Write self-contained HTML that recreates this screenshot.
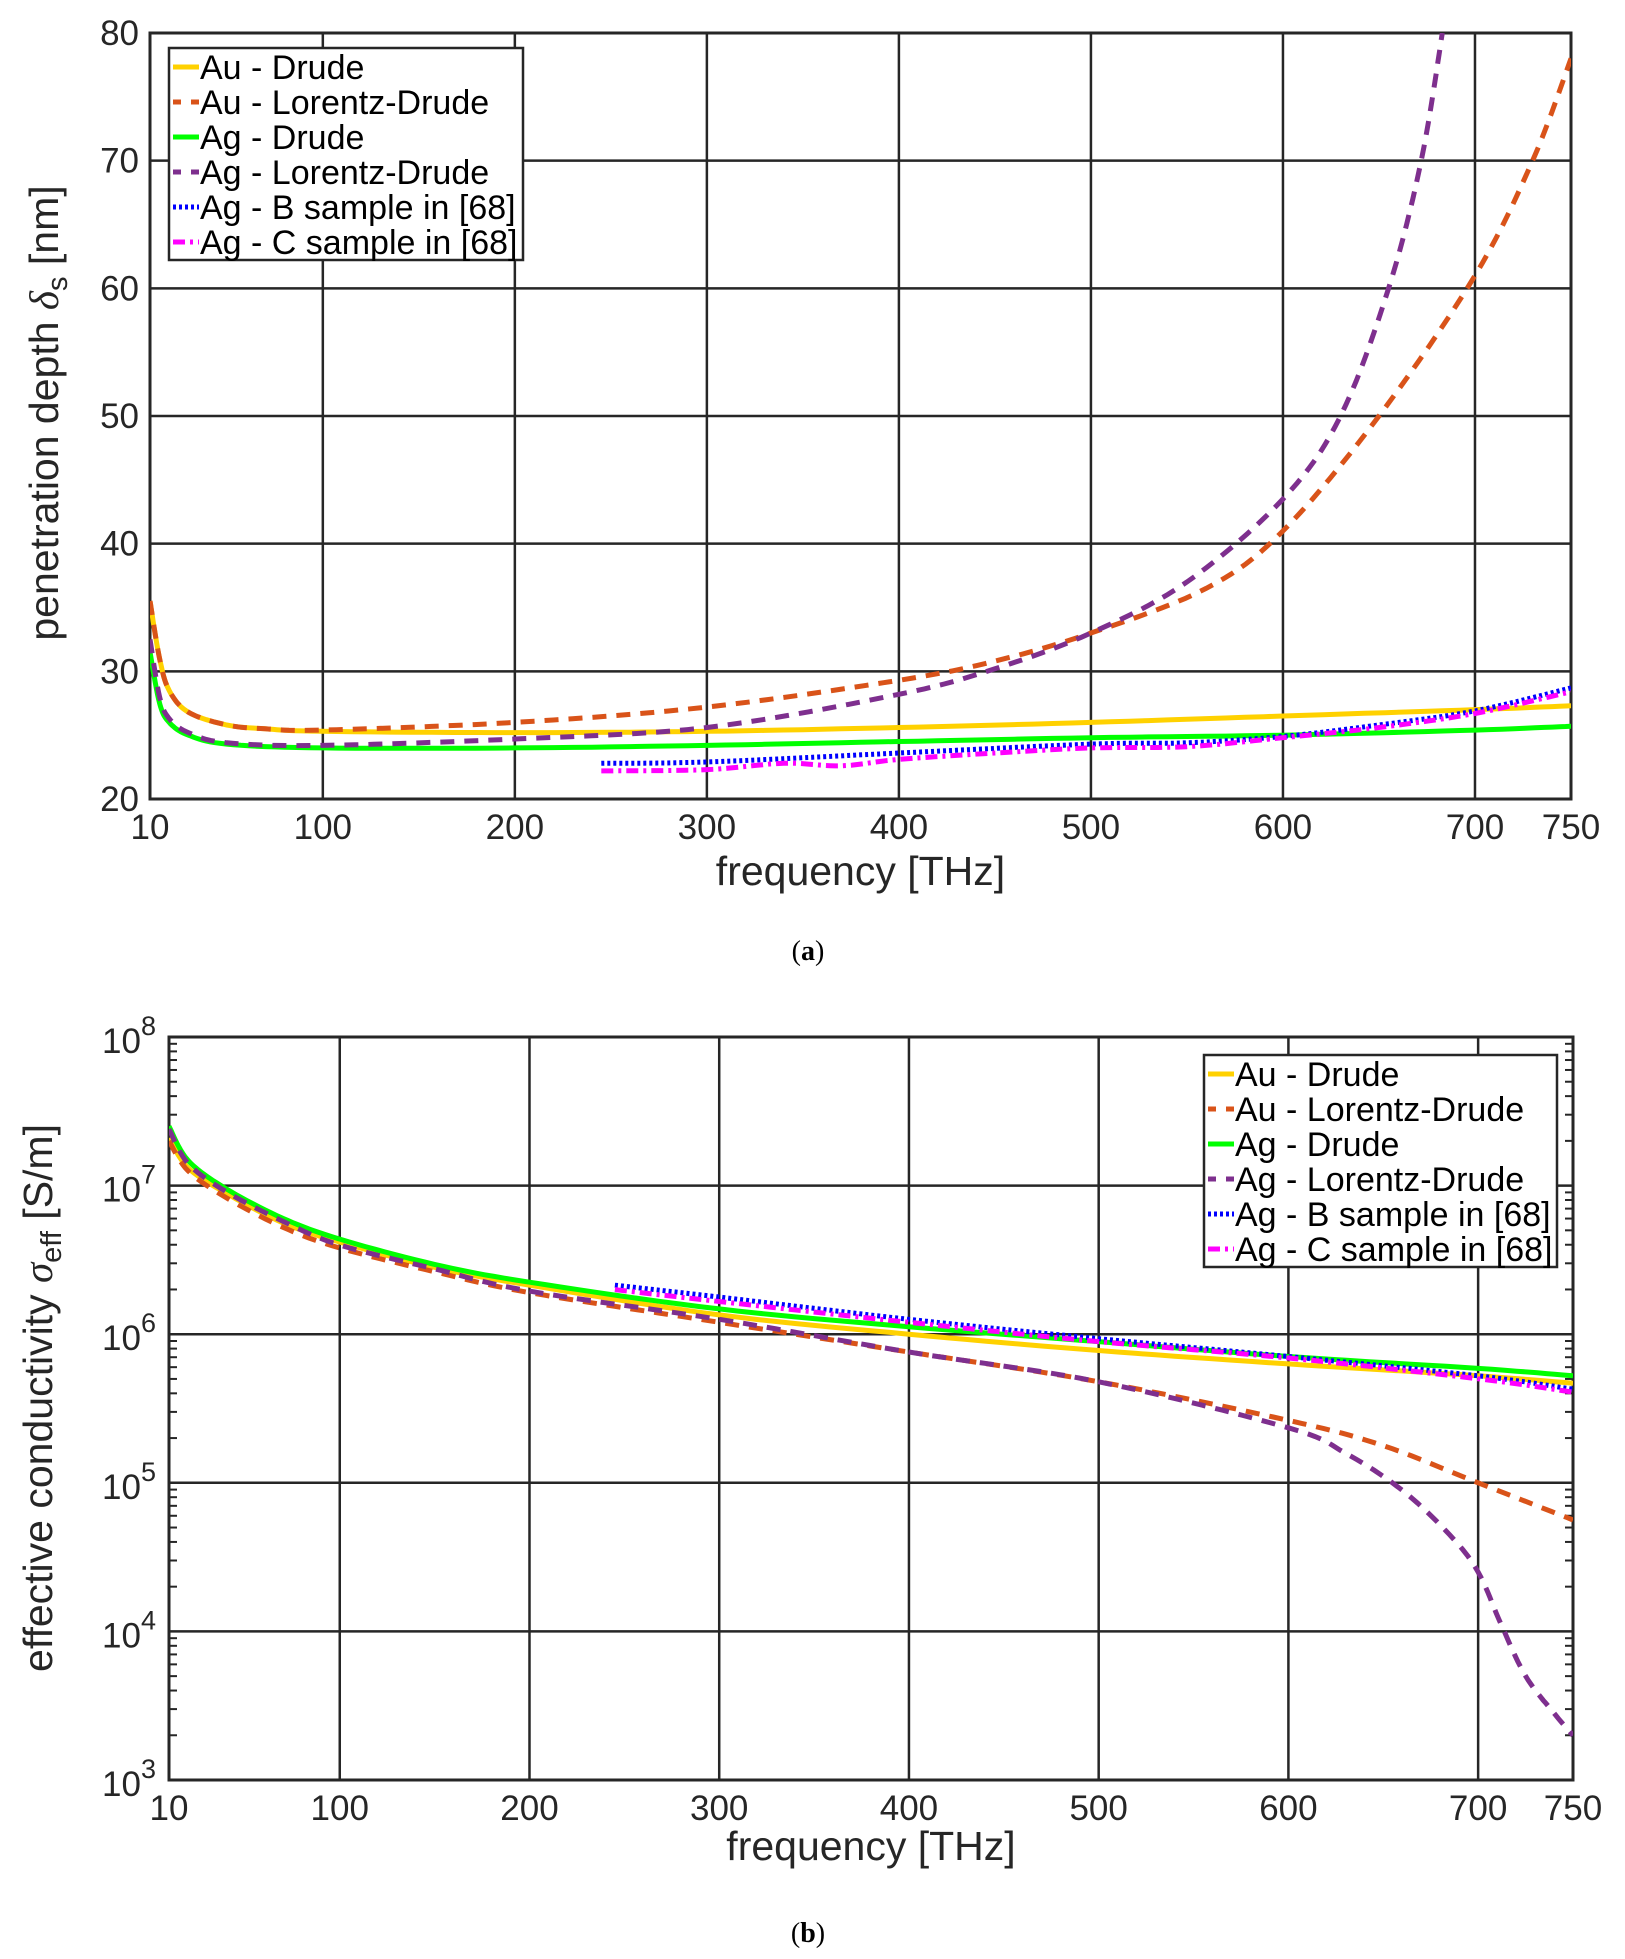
<!DOCTYPE html>
<html><head><meta charset="utf-8"><style>
html,body{margin:0;padding:0;background:#fff;}
svg{display:block;font-family:"Liberation Sans",Arial,sans-serif;}
</style></head><body>
<svg id="s" width="1625" height="1959" viewBox="0 0 1625 1959" xmlns="http://www.w3.org/2000/svg">
<g id="g"></g>
<text x="808" y="960" font-family="Liberation Serif,serif" font-size="28" text-anchor="middle">(<tspan font-weight="bold">a</tspan>)</text>
<text x="808" y="1942" font-family="Liberation Serif,serif" font-size="28" text-anchor="middle">(<tspan font-weight="bold">b</tspan>)</text>
</svg>
<script>
const NS="http://www.w3.org/2000/svg",G=document.getElementById('g');
function el(t,a,txt){const e=document.createElementNS(NS,t);for(const k in a)e.setAttribute(k,a[k]);if(txt!==undefined)e.textContent=txt;G.appendChild(e);return e;}
const C={y:'#FFD100',o:'#D95319',g:'#00FF00',p:'#7E2F8E',b:'#0000FF',m:'#FF00FF'};
const ST={y:'',o:'14,10',g:'',p:'14,10',b:'3,3',m:'12,5,3,5'};
function interp(pts,n){const out=[];for(let i=0;i<pts.length-1;i++){const p0=pts[Math.max(0,i-1)],p1=pts[i],p2=pts[i+1],p3=pts[Math.min(pts.length-1,i+2)];for(let k=0;k<n;k++){const t=k/n,t2=t*t,t3=t2*t;const f=j=>0.5*((2*p1[j])+(-p0[j]+p2[j])*t+(2*p0[j]-5*p1[j]+4*p2[j]-p3[j])*t2+(-p0[j]+3*p1[j]-3*p2[j]+p3[j])*t3);out.push([f(0),f(1)]);}}out.push(pts[pts.length-1]);return out;}
function curve(pts,X,Y,c,clip){const q=interp(pts,10);el('path',{d:'M'+q.map(p=>X(p[0]).toFixed(1)+','+Y(p[1]).toFixed(1)).join('L'),fill:'none',stroke:C[c],'stroke-width':5,'stroke-dasharray':ST[c],'clip-path':clip});}
// ---------- Plot A
const ax={l:150,r:1571,t:33,b:799};
const XA=f=>ax.l+(f-10)/740*(ax.r-ax.l),YA=v=>ax.b-(v-20)/60*(ax.b-ax.t);
el('clipPath',{id:'ca'}).appendChild((()=>{const r=document.createElementNS(NS,'rect');r.setAttribute('x',ax.l);r.setAttribute('y',ax.t);r.setAttribute('width',ax.r-ax.l);r.setAttribute('height',ax.b-ax.t);return r;})());
const xt=[10,100,200,300,400,500,600,700,750];
for(const f of xt){el('line',{x1:XA(f),x2:XA(f),y1:ax.t,y2:ax.b,stroke:'#262626','stroke-width':2.5});el('text',{x:XA(f),y:839,'font-size':35,'text-anchor':'middle',fill:'#262626'},f);}
for(let v=20;v<=80;v+=10){el('line',{x1:ax.l,x2:ax.r,y1:YA(v),y2:YA(v),stroke:'#262626','stroke-width':2.5});el('text',{x:139,y:YA(v)+12,'font-size':35,'text-anchor':'end',fill:'#262626'},v);}
el('rect',{x:ax.l,y:ax.t,width:ax.r-ax.l,height:ax.b-ax.t,fill:'none',stroke:'#262626','stroke-width':3});
const A={
y:[[10,35.5],[15,31],[20,28.5],[30,26.8],[50,25.8],[70,25.5],[100,25.3],[200,25.2],[300,25.3],[400,25.6],[500,26],[600,26.5],[700,27],[750,27.3]],
o:[[10,35.5],[15,31],[20,28.5],[30,26.8],[50,25.8],[70,25.5],[100,25.4],[200,26],[300,27.2],[400,29.3],[450,30.8],[500,33],[560,36.5],[600,41],[650,50],[700,61],[730,70],[750,78]],
g:[[10,31.5],[15,27.5],[20,26],[30,25],[50,24.3],[100,24],[200,24],[300,24.2],[400,24.5],[500,24.8],[600,25],[700,25.4],[750,25.7]],
p:[[10,32.5],[15,28],[20,26.3],[30,25.2],[50,24.4],[100,24.2],[200,24.7],[300,25.6],[400,28.2],[450,30.2],[500,33],[550,37],[600,43.5],[630,50],[655,60],[672,70],[683,80]],
b:[[245,22.8],[300,22.9],[400,23.6],[500,24.3],[550,24.4],[600,24.9],[650,25.8],[700,26.9],[750,28.7]],
m:[[245,22.2],[300,22.3],[340,22.8],[370,22.6],[400,23.1],[450,23.6],[500,24],[550,24.1],[600,24.8],[650,25.6],[700,26.7],[750,28.4]]};
for(const k of ['y','o','g','p','b','m'])curve(A[k],XA,YA,k,'url(#ca)');
const labels=['Au - Drude','Au - Lorentz-Drude','Ag - Drude','Ag - Lorentz-Drude','Ag - B sample in [68]','Ag - C sample in [68]'];
function legend(x,y,w,h){el('rect',{x:x,y:y,width:w,height:h,fill:'#fff',stroke:'#262626','stroke-width':2.5});const ks=['y','o','g','p','b','m'];ks.forEach((k,i)=>{const cy=y+19+i*35;el('line',{x1:x+4,x2:x+30,y1:cy,y2:cy,stroke:C[k],'stroke-width':5,'stroke-dasharray':k=='o'||k=='p'?'8,10':ST[k]});el('text',{x:x+31,y:cy+12,'font-size':34,fill:'#000'},labels[i]);});}
legend(169,48,354,212);
el('text',{x:XA(380),y:885,'font-size':41,'text-anchor':'middle',fill:'#262626'},'frequency [THz]');
const ya=el('text',{x:0,y:0,'font-size':41,'text-anchor':'middle',fill:'#262626',transform:'translate(58,413) rotate(-90)'},'penetration depth ');
const d=document.createElementNS(NS,'tspan');d.setAttribute('font-style','italic');d.setAttribute('font-family','Liberation Serif,serif');d.textContent='δ';ya.appendChild(d);
const s=document.createElementNS(NS,'tspan');s.setAttribute('font-size','29');s.setAttribute('dy','9');s.textContent='s';ya.appendChild(s);
const s2=document.createElementNS(NS,'tspan');s2.setAttribute('dy','-9');s2.textContent=' [nm]';ya.appendChild(s2);
// ---------- Plot B
const bx={l:169,r:1573,t:1037,b:1780};
const XB=f=>bx.l+(f-10)/740*(bx.r-bx.l),YB=v=>bx.b-(v-3)/5*(bx.b-bx.t);
el('clipPath',{id:'cb'}).appendChild((()=>{const r=document.createElementNS(NS,'rect');r.setAttribute('x',bx.l);r.setAttribute('y',bx.t);r.setAttribute('width',bx.r-bx.l);r.setAttribute('height',bx.b-bx.t);return r;})());
for(const f of xt){el('line',{x1:XB(f),x2:XB(f),y1:bx.t,y2:bx.b,stroke:'#262626','stroke-width':2.5});el('text',{x:XB(f),y:1820,'font-size':35,'text-anchor':'middle',fill:'#262626'},f);}
for(let v=3;v<=8;v++){el('line',{x1:bx.l,x2:bx.r,y1:YB(v),y2:YB(v),stroke:'#262626','stroke-width':2.5});
const t=el('text',{x:156,y:YB(v)+16,'font-size':35,'text-anchor':'end',fill:'#262626'},'10');const sp=document.createElementNS(NS,'tspan');sp.setAttribute('font-size','27');sp.setAttribute('dy','-18');sp.textContent=v;t.appendChild(sp);
if(v<8)for(let m=2;m<=9;m++){const yy=YB(v+Math.log10(m));el('line',{x1:bx.l,x2:bx.l+8,y1:yy,y2:yy,stroke:'#262626','stroke-width':2});el('line',{x1:bx.r-8,x2:bx.r,y1:yy,y2:yy,stroke:'#262626','stroke-width':2});}}
el('rect',{x:bx.l,y:bx.t,width:bx.r-bx.l,height:bx.b-bx.t,fill:'none',stroke:'#262626','stroke-width':3});
const B={
y:[[10,7.32],[20,7.12],[40,6.95],[70,6.75],[100,6.62],[150,6.45],[200,6.33],[300,6.13],[400,6.0],[500,5.89],[600,5.8],[700,5.72],[750,5.67]],
g:[[10,7.4],[20,7.17],[40,6.98],[70,6.78],[100,6.64],[150,6.47],[200,6.35],[300,6.17],[400,6.05],[500,5.95],[600,5.85],[700,5.77],[750,5.72]],
o:[[10,7.3],[20,7.1],[40,6.92],[70,6.72],[100,6.58],[150,6.42],[200,6.28],[300,6.08],[400,5.88],[500,5.68],[600,5.42],[650,5.25],[700,5.0],[750,4.75]],
p:[[10,7.38],[20,7.15],[40,6.96],[70,6.76],[100,6.6],[150,6.44],[200,6.29],[300,6.1],[400,5.88],[500,5.68],[600,5.37],[630,5.2],[660,4.95],[685,4.65],[700,4.4],[712,4.05],[725,3.7],[740,3.45],[750,3.3]],
b:[[245,6.33],[300,6.25],[400,6.1],[500,5.97],[600,5.85],[700,5.72],[750,5.63]],
m:[[245,6.3],[300,6.22],[400,6.08],[500,5.95],[600,5.84],[700,5.7],[750,5.61]]};
for(const k of ['y','o','g','p','b','m'])curve(B[k],XB,YB,k,'url(#cb)');
legend(1204,1055,353,212);
el('text',{x:XB(380),y:1860,'font-size':41,'text-anchor':'middle',fill:'#262626'},'frequency [THz]');
const yb=el('text',{x:0,y:0,'font-size':41,'text-anchor':'middle',fill:'#262626',transform:'translate(52,1398) rotate(-90)'},'effective conductivity ');
const d2=document.createElementNS(NS,'tspan');d2.setAttribute('font-style','italic');d2.setAttribute('font-family','Liberation Serif,serif');d2.textContent='σ';yb.appendChild(d2);
const s3=document.createElementNS(NS,'tspan');s3.setAttribute('font-size','29');s3.setAttribute('dy','9');s3.textContent='eff';yb.appendChild(s3);
const s4=document.createElementNS(NS,'tspan');s4.setAttribute('dy','-9');s4.textContent=' [S/m]';yb.appendChild(s4);
</script>
</body></html>
